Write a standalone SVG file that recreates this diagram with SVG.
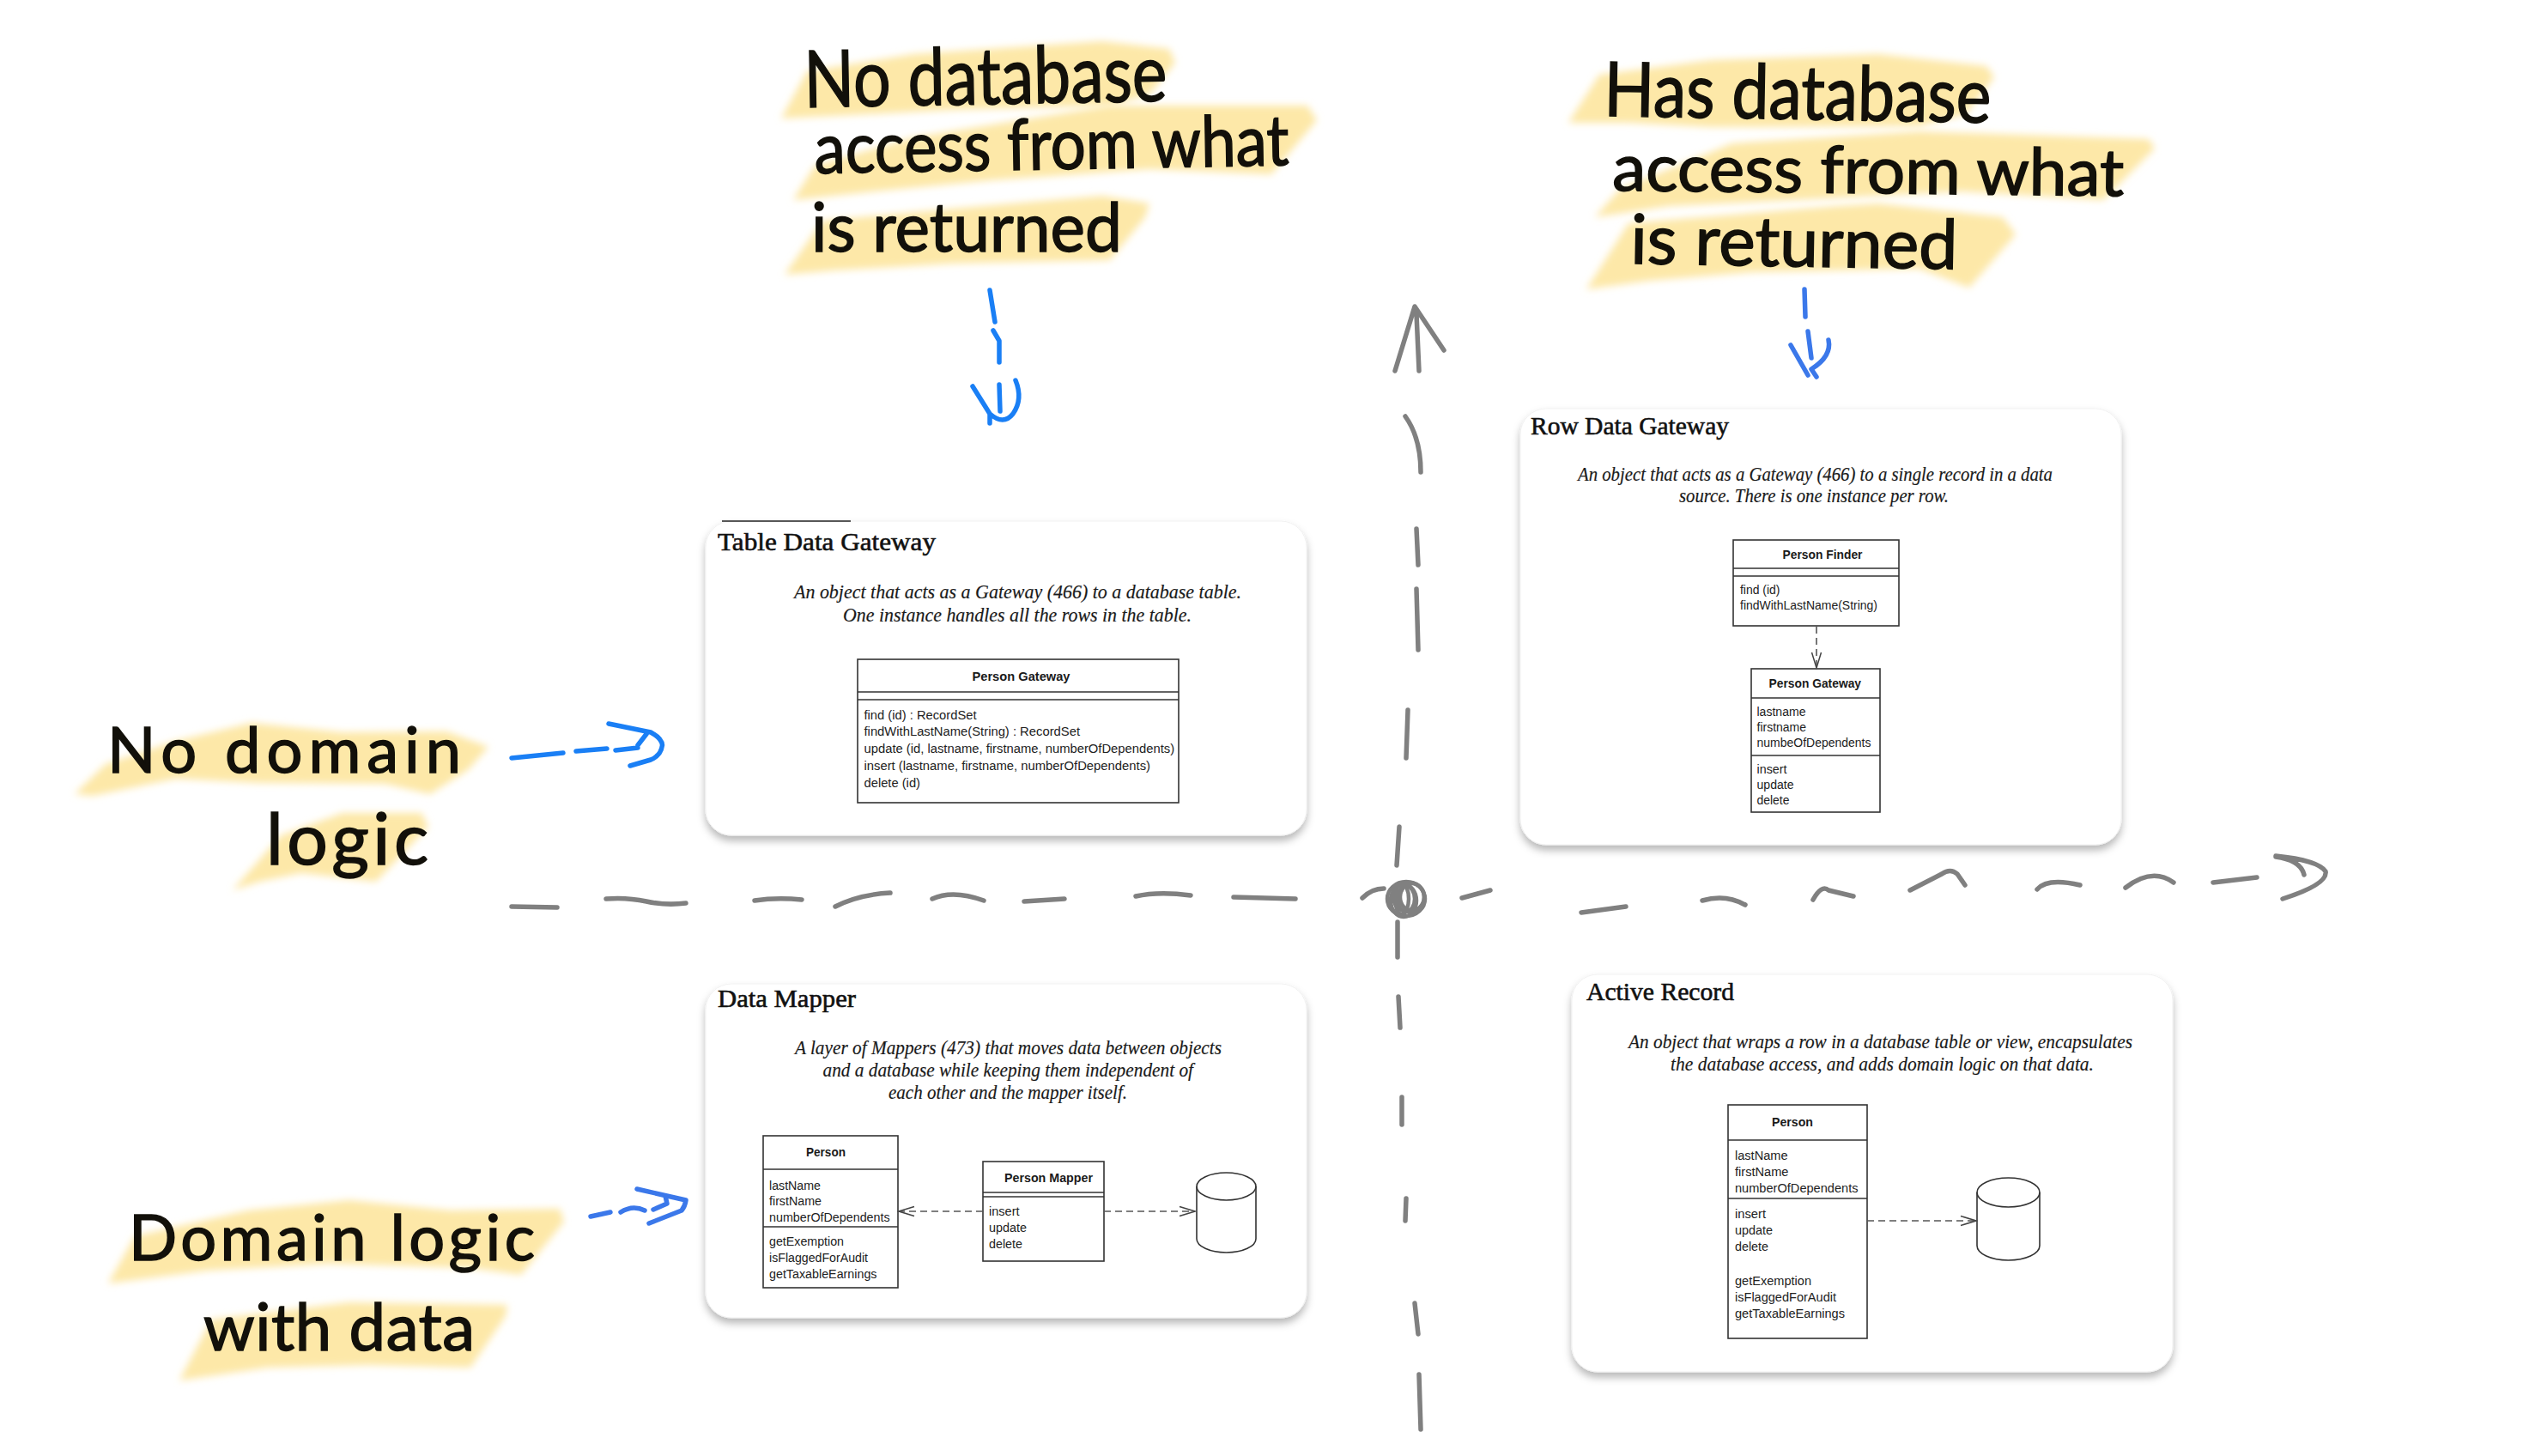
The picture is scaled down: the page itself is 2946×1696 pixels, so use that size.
<svg xmlns="http://www.w3.org/2000/svg" width="2946" height="1696" viewBox="0 0 2946 1696">
<style>
.card{fill:#fff;stroke:#f1f1f1;stroke-width:1;filter:url(#sh)}
.ttl{font:30px "Liberation Serif","Times New Roman",serif;fill:#111;stroke:#111;stroke-width:.6}
.dsc{font:italic 24px "Liberation Serif","Times New Roman",serif;fill:#1a1a1a;stroke:#1a1a1a;stroke-width:.2}
.u{font:15.5px "Liberation Sans",Arial,sans-serif;fill:#222}
.ub{font:bold 15px "Liberation Sans",Arial,sans-serif;fill:#1a1a1a}
.box{fill:#fff;stroke:#333;stroke-width:1.6}
.ln{fill:none;stroke:#333;stroke-width:1.6}
.dash{fill:none;stroke:#555;stroke-width:1.6;stroke-dasharray:8 5}
.hl{fill:#fde8a8;filter:url(#bl)}
.hw{font-family:Lato,"Open Sans",sans-serif;fill:#12100a;stroke:#12100a;stroke-width:1.5}
.ax{fill:none;stroke:#808080;stroke-width:5.5;stroke-linecap:round;stroke-linejoin:round}
.ax2{fill:none;stroke:#808080;stroke-width:4.5}
.b1{fill:none;stroke:#1a7ff5;stroke-width:5.5;stroke-linecap:round;stroke-linejoin:round}
.b2{fill:none;stroke:#3b78ea;stroke-width:5.5;stroke-linecap:round;stroke-linejoin:round}
</style>
<defs>
<filter id="sh" x="-5%" y="-5%" width="110%" height="112%"><feDropShadow dx="0" dy="6" stdDeviation="5" flood-color="#000" flood-opacity="0.28"/></filter>
<filter id="bl" x="-5%" y="-15%" width="110%" height="130%"><feGaussianBlur stdDeviation="4"/></filter>
<marker id="open" markerUnits="userSpaceOnUse" markerWidth="22" markerHeight="16" refX="20" refY="8" orient="auto"><path d="M2 2.5L20 8L2 13.5" fill="none" stroke="#444" stroke-width="1.5"/></marker>
</defs>
<rect width="2946" height="1696" fill="#fff"/>

<g id="note-no-db">
<path class="hl" d="M910 138L940 83L1064 63L1284 48L1362 57L1369 73L1339 110L1293 123L1110 128L972 135Z"/>
<path class="hl" d="M924 233L949 193L1064 160L1293 123L1523 123L1534 140L1481 203L1339 197L1155 210L1018 223Z"/>
<path class="hl" d="M914 320L958 257L1110 243L1284 228L1339 237L1334 253L1293 303L1110 307L972 315Z"/>
<text class="hw" font-size="92" x="937" y="125" textLength="423" lengthAdjust="spacingAndGlyphs" transform="rotate(-1 937 125)">No database</text>
<text class="hw" font-size="82" x="949" y="202" textLength="553" lengthAdjust="spacingAndGlyphs" transform="rotate(-1 949 202)">access from what</text>
<text class="hw" font-size="80" x="945" y="293" textLength="362" lengthAdjust="spacingAndGlyphs">is returned</text>
</g>

<g id="note-has-db">
<path class="hl" d="M1827 143L1863 87L1994 70L2188 63L2314 77L2323 90L2290 133L2236 147L1994 148L1897 143Z"/>
<path class="hl" d="M1858 253L1887 220L2018 167L2236 153L2503 162L2510 173L2450 233L2285 223L2091 233L1945 240Z"/>
<path class="hl" d="M1848 337L1897 260L2139 240L2188 237L2333 253L2348 273L2294 335L2236 313L2042 317L1921 327Z"/>
<text class="hw" font-size="88" x="1868" y="135" textLength="451" lengthAdjust="spacingAndGlyphs" transform="rotate(1 1868 135)">Has database</text>
<text class="hw" font-size="76" x="1878" y="222" textLength="596" lengthAdjust="spacingAndGlyphs" transform="rotate(.6 1878 222)">access from what</text>
<text class="hw" font-size="80" x="1899" y="307" textLength="381" lengthAdjust="spacingAndGlyphs" transform="rotate(1 1899 307)">is returned</text>
</g>

<g id="note-no-domain">
<path class="hl" d="M87 925L123 890L205 863L293 842L399 853L520 852L569 870L545 897L501 925L448 913L302 912L205 907L108 927Z"/>
<path class="hl" d="M271 1037L327 973L399 947L491 947L499 963L438 1027L351 1017L302 1027Z"/>
<text class="hw" font-size="74" x="125" y="900" textLength="412" lengthAdjust="spacing">No domain</text>
<text class="hw" font-size="84" x="310" y="1007" textLength="189" lengthAdjust="spacing">logic</text>
</g>

<g id="note-domain-data">
<path class="hl" d="M126 1495L157 1440L289 1410L407 1398L525 1410L652 1408L657 1423L607 1485L548 1477L383 1472L242 1480Z"/>
<path class="hl" d="M209 1608L246 1537L407 1517L591 1520L589 1533L548 1593L430 1590L312 1593Z"/>
<text class="hw" font-size="74" x="150" y="1468" textLength="473" lengthAdjust="spacing">Domain logic</text>
<text class="hw" font-size="76" x="237" y="1573" textLength="316" lengthAdjust="spacing">with data</text>
</g>

<g id="table-data-gateway">
<rect class="card" x="822" y="607" width="700" height="366" rx="30"/>
<path d="M841 607H991" stroke="#222" stroke-width="1.6"/>
<text class="ttl" x="836" y="641" textLength="254" lengthAdjust="spacingAndGlyphs">Table Data Gateway</text>
<text class="dsc" x="925" y="697" textLength="521" lengthAdjust="spacingAndGlyphs">An object that acts as a Gateway (466) to a database table.</text>
<text class="dsc" x="982" y="724" textLength="406" lengthAdjust="spacingAndGlyphs">One instance handles all the rows in the table.</text>
<rect class="box" x="999" y="768" width="374" height="167"/>
<path class="ln" d="M999 806H1373M999 815H1373"/>
<text class="ub" x="1132.5" y="793" textLength="114" lengthAdjust="spacingAndGlyphs">Person Gateway</text>
<text class="u" x="1006.5" y="838" textLength="131" lengthAdjust="spacingAndGlyphs">find (id) : RecordSet</text>
<text class="u" x="1006.5" y="857" textLength="251.5" lengthAdjust="spacingAndGlyphs">findWithLastName(String) : RecordSet</text>
<text class="u" x="1006.5" y="877" textLength="361.6" lengthAdjust="spacingAndGlyphs">update (id, lastname, firstname, numberOfDependents)</text>
<text class="u" x="1006.5" y="897" textLength="333.5" lengthAdjust="spacingAndGlyphs">insert (lastname, firstname, numberOfDependents)</text>
<text class="u" x="1006.5" y="917" textLength="65.5" lengthAdjust="spacingAndGlyphs">delete (id)</text>
</g>

<g id="row-data-gateway">
<rect class="card" x="1771" y="476" width="700" height="508" rx="30"/>
<text class="ttl" x="1783" y="506" textLength="231" lengthAdjust="spacingAndGlyphs">Row Data Gateway</text>
<text class="dsc" x="1838" y="560" textLength="553" lengthAdjust="spacingAndGlyphs">An object that acts as a Gateway (466) to a single record in a data</text>
<text class="dsc" x="1956" y="585" textLength="314" lengthAdjust="spacingAndGlyphs">source. There is one instance per row.</text>
<rect class="box" x="2019" y="629" width="193" height="100"/>
<path class="ln" d="M2019 662H2212M2019 671H2212"/>
<text class="ub" x="2076.5" y="651" textLength="93" lengthAdjust="spacingAndGlyphs">Person Finder</text>
<text class="u" x="2027" y="692" textLength="46.5" lengthAdjust="spacingAndGlyphs">find (id)</text>
<text class="u" x="2027" y="710" textLength="160" lengthAdjust="spacingAndGlyphs">findWithLastName(String)</text>
<rect class="box" x="2040" y="779" width="150" height="167"/>
<path class="ln" d="M2040 813H2190M2040 880H2190"/>
<text class="ub" x="2060.5" y="801" textLength="107.5" lengthAdjust="spacingAndGlyphs">Person Gateway</text>
<text class="u" x="2046.5" y="834" textLength="57" lengthAdjust="spacingAndGlyphs">lastname</text>
<text class="u" x="2046.5" y="852" textLength="57.5" lengthAdjust="spacingAndGlyphs">firstname</text>
<text class="u" x="2046.5" y="870" textLength="133" lengthAdjust="spacingAndGlyphs">numbeOfDependents</text>
<text class="u" x="2046.5" y="901" textLength="35" lengthAdjust="spacingAndGlyphs">insert</text>
<text class="u" x="2046.5" y="919" textLength="43" lengthAdjust="spacingAndGlyphs">update</text>
<text class="u" x="2046.5" y="937" textLength="38" lengthAdjust="spacingAndGlyphs">delete</text>
</g>

<g id="data-mapper">
<rect class="card" x="822" y="1146" width="700" height="389" rx="30"/>
<text class="ttl" x="836" y="1173" textLength="161" lengthAdjust="spacingAndGlyphs">Data Mapper</text>
<text class="dsc" x="926" y="1228" textLength="497" lengthAdjust="spacingAndGlyphs">A layer of Mappers (473) that moves data between objects</text>
<text class="dsc" x="958.5" y="1254" textLength="431.5" lengthAdjust="spacingAndGlyphs">and a database while keeping them independent of</text>
<text class="dsc" x="1035" y="1280" textLength="278" lengthAdjust="spacingAndGlyphs">each other and the mapper itself.</text>
<rect class="box" x="889" y="1323" width="157" height="177"/>
<path class="ln" d="M889 1362H1046M889 1429H1046"/>
<text class="ub" x="939" y="1347" textLength="46" lengthAdjust="spacingAndGlyphs">Person</text>
<text class="u" x="896" y="1386" textLength="60" lengthAdjust="spacingAndGlyphs">lastName</text>
<text class="u" x="896" y="1404" textLength="61" lengthAdjust="spacingAndGlyphs">firstName</text>
<text class="u" x="896" y="1423" textLength="140.6" lengthAdjust="spacingAndGlyphs">numberOfDependents</text>
<text class="u" x="896" y="1451" textLength="87" lengthAdjust="spacingAndGlyphs">getExemption</text>
<text class="u" x="896" y="1470" textLength="115" lengthAdjust="spacingAndGlyphs">isFlaggedForAudit</text>
<text class="u" x="896" y="1489" textLength="125.5" lengthAdjust="spacingAndGlyphs">getTaxableEarnings</text>
<rect class="box" x="1145" y="1353" width="141" height="116"/>
<path class="ln" d="M1145 1389H1286M1145 1394H1286"/>
<text class="ub" x="1170" y="1377" textLength="103" lengthAdjust="spacingAndGlyphs">Person Mapper</text>
<text class="u" x="1152" y="1416" textLength="35.5" lengthAdjust="spacingAndGlyphs">insert</text>
<text class="u" x="1152" y="1435" textLength="44" lengthAdjust="spacingAndGlyphs">update</text>
<text class="u" x="1152" y="1454" textLength="39" lengthAdjust="spacingAndGlyphs">delete</text>
<path class="ln" d="M1394 1382V1443A34.5 16 0 0 0 1463 1443V1382"/>
<ellipse class="ln" cx="1428.5" cy="1382" rx="34.5" ry="16"/>
</g>

<g id="active-record">
<rect class="card" x="1831" y="1135" width="700" height="463" rx="30"/>
<text class="ttl" x="1848" y="1165" textLength="172" lengthAdjust="spacingAndGlyphs">Active Record</text>
<text class="dsc" x="1897" y="1221" textLength="587" lengthAdjust="spacingAndGlyphs">An object that wraps a row in a database table or view, encapsulates</text>
<text class="dsc" x="1946" y="1247" textLength="493" lengthAdjust="spacingAndGlyphs">the database access, and adds domain logic on that data.</text>
<rect class="box" x="2013" y="1287" width="162" height="272"/>
<path class="ln" d="M2013 1328H2175M2013 1396H2175"/>
<text class="ub" x="2064" y="1312" textLength="48" lengthAdjust="spacingAndGlyphs">Person</text>
<text class="u" x="2021" y="1351" textLength="61.5" lengthAdjust="spacingAndGlyphs">lastName</text>
<text class="u" x="2021" y="1370" textLength="62.5" lengthAdjust="spacingAndGlyphs">firstName</text>
<text class="u" x="2021" y="1389" textLength="143.5" lengthAdjust="spacingAndGlyphs">numberOfDependents</text>
<text class="u" x="2021" y="1419" textLength="36" lengthAdjust="spacingAndGlyphs">insert</text>
<text class="u" x="2021" y="1438" textLength="44" lengthAdjust="spacingAndGlyphs">update</text>
<text class="u" x="2021" y="1457" textLength="39" lengthAdjust="spacingAndGlyphs">delete</text>
<text class="u" x="2021" y="1497" textLength="89" lengthAdjust="spacingAndGlyphs">getExemption</text>
<text class="u" x="2021" y="1516" textLength="118" lengthAdjust="spacingAndGlyphs">isFlaggedForAudit</text>
<text class="u" x="2021" y="1535" textLength="128" lengthAdjust="spacingAndGlyphs">getTaxableEarnings</text>
<path class="ln" d="M2303 1389V1451A36.5 17 0 0 0 2376 1451V1389"/>
<ellipse class="ln" cx="2339.5" cy="1389" rx="36.5" ry="17"/>
</g>

<g id="connectors">
<path class="dash" d="M2116 730V778" marker-end="url(#open)"/>
<path class="dash" d="M1145 1411H1047" marker-end="url(#open)"/>
<path class="dash" d="M1286 1411H1392" marker-end="url(#open)"/>
<path class="dash" d="M2175 1422H2302" marker-end="url(#open)"/>

<path class="b1" d="M1153 338L1159 375M1157 385L1164 397L1164 422M1164 448L1165 479M1133 450L1153 482L1153 493M1153 482Q1169 496 1180 482Q1192 465 1183 443"/>
<path class="b2" d="M2102 337L2103 369M2106 386L2110 417M2086 402L2106 437M2130 396Q2134 415 2110 430L2116 439"/>
<path class="b1" d="M596 883L656 877M671 875L707 872M717 874L743 871M743 868L753 855M709 843L758 853Q771 860 771.5 868Q770 880 758 885L734 892"/>
<path class="b2" d="M688 1417L711 1412M723 1412Q737 1403 751 1410M761 1409L777 1402L775 1393M742 1385L799 1398Q798 1405 794 1410L756 1425"/>

<g class="ax">
<path d="M596 1056L649 1057M706 1047Q730 1045 753 1050T799 1052M879 1049Q905 1045 934 1048M973 1056Q1000 1042 1037 1040M1086 1047Q1110 1036 1146 1049M1193 1050L1240 1047M1323 1044Q1350 1038 1387 1043M1437 1045L1509 1047M1587 1046Q1598 1035 1612 1035"/>
<path d="M1703 1046L1736 1037M1842 1063L1894 1056M1983 1049Q2010 1041 2033 1054M2112 1048Q2122 1030 2130 1037L2159 1044M2225 1037L2262 1018Q2272 1011 2280 1018L2289 1031M2373 1036Q2385 1022 2423 1031M2476 1034Q2507 1010 2532 1028M2578 1028L2629 1022M2651 997Q2700 1002 2709 1015Q2712 1030 2659 1047M2651 998Q2680 1002 2684 1019"/>
<path d="M1625 432L1648 357L1682 408M1650 366L1653 432M1637 485Q1655 510 1655 550M1650 616L1652 658M1650 686L1652 757M1640 827L1638 883M1630 963L1627 1008M1628 1074L1628 1115M1629 1161L1631 1197M1633 1278L1633 1310M1638 1396L1637 1422M1648 1518L1652 1554M1653 1601L1655 1665"/>
</g>
<g class="ax2">
<ellipse cx="1638" cy="1047" rx="22" ry="20"/>
<ellipse cx="1641" cy="1045" rx="18" ry="17"/>
<ellipse cx="1635" cy="1049" rx="15" ry="19"/>
<ellipse cx="1638" cy="1047" rx="10" ry="15"/>
<ellipse cx="1645" cy="1045" rx="14" ry="16"/>
<ellipse cx="1633" cy="1047" rx="8" ry="18"/>
</g>
</g>
</svg>
